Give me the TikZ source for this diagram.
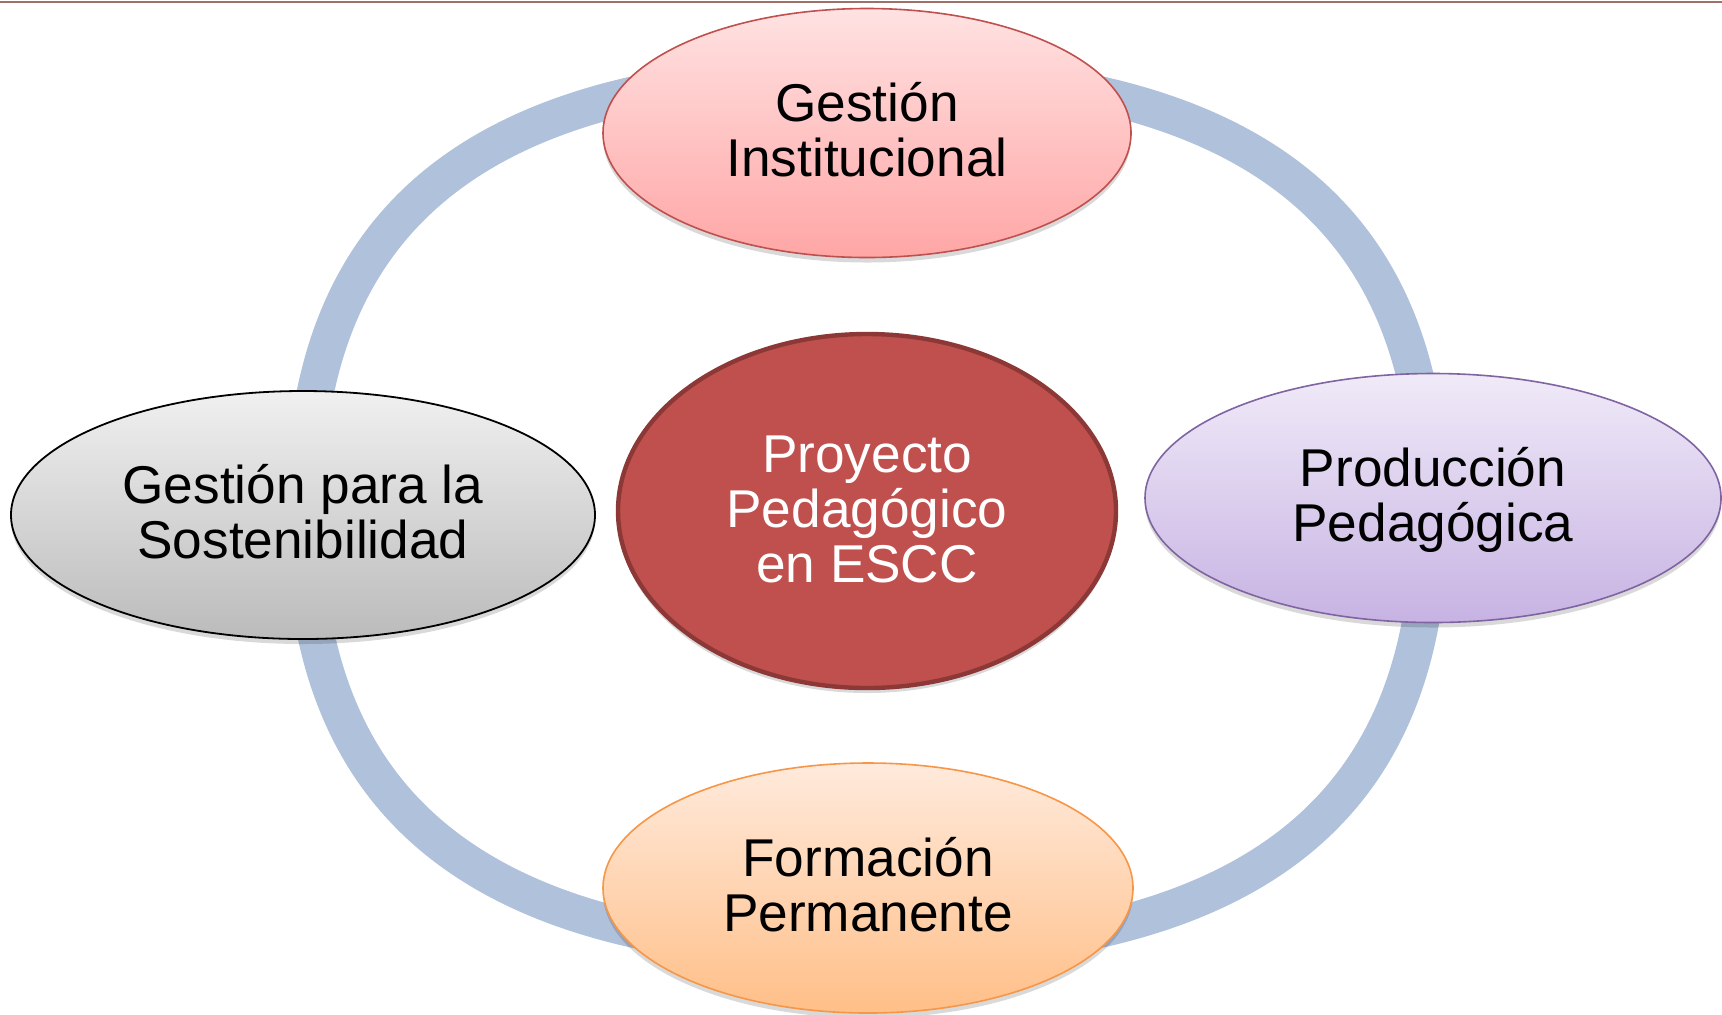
\documentclass[tikz,border=0pt]{standalone}
\usepackage{fontspec}
\setmainfont{Liberation Sans}
\usetikzlibrary{shapes.geometric,shadows}
\definecolor{ringblue}{HTML}{B0C1DB}
\definecolor{toprule}{HTML}{9E7068}
\definecolor{pinkT}{HTML}{FFE2E2}
\definecolor{pinkB}{HTML}{FFA6A6}
\definecolor{pinkL}{HTML}{C0504D}
\definecolor{grayT}{HTML}{F0F0F0}
\definecolor{grayB}{HTML}{BBBBBB}
\definecolor{purpT}{HTML}{F0EAF8}
\definecolor{purpB}{HTML}{C7B3E3}
\definecolor{purpL}{HTML}{8064A2}
\definecolor{oranT}{HTML}{FFEADC}
\definecolor{oranB}{HTML}{FFBF88}
\definecolor{oranL}{HTML}{F79646}
\definecolor{redF}{HTML}{C0504D}
\definecolor{redL}{HTML}{8C3836}
\newcommand\tstrut{\rule{0pt}{1em}}
\newcommand\bstrut{\rule[-0.39em]{0pt}{0.39em}}
\tikzset{
  bub/.style={ellipse, inner sep=0pt, outer sep=0pt, align=center,
    font=\fontsize{26.6}{27.5}\selectfont,
    drop shadow={shadow xshift=0pt, shadow yshift=-2.5pt, opacity=0.15, fill=black}},
  ringstyle/.style={draw=ringblue, line width=18.5pt},
  rulestyle/.style={draw=toprule, line width=1pt},
}
\begin{document}
\begin{tikzpicture}[x=0.5pt, y=-0.5pt]
\useasboundingbox (0,0) rectangle (1722,1014);
\fill[white] (0,0) rectangle (1722,1014);
\draw[rulestyle] (0,2) -- (1722,2);
% ring
\coordinate (rL) at (304,512);
\coordinate (rT) at (867,72);
\coordinate (rR) at (1430,512);
\coordinate (rB) at (867,952);
\draw[ringstyle] (rL) .. controls (304,212.8) and (484.2,72) .. (rT)
  .. controls (1249.8,72) and (1430,212.8) .. (rR)
  .. controls (1430,811.2) and (1249.8,952) .. (rB)
  .. controls (484.2,952) and (304,811.2) .. (rL) -- cycle;
% nodes
\node[bub, minimum width=264pt, minimum height=124.5pt, draw=pinkL, line width=0.8pt,
  top color=pinkT, bottom color=pinkB] (gi) at (867,133) {\tstrut Gestión\\Institucional\bstrut};
\node[bub, minimum width=292pt, minimum height=124pt, draw=black, line width=0.9pt,
  top color=grayT, bottom color=grayB] (gs) at (303,515) {\tstrut Gestión para la\\Sostenibilidad\bstrut};
\node[bub, minimum width=288pt, minimum height=124.5pt, draw=purpL, line width=0.8pt,
  top color=purpT, bottom color=purpB] (pp) at (1433,498) {\tstrut Producción\\Pedagógica\bstrut};
\node[bub, minimum width=265pt, minimum height=125pt, draw=oranL, line width=0.8pt,
  top color=oranT, bottom color=oranB] (fp) at (868,888) {\tstrut Formación\\Permanente\bstrut};
\node[bub, minimum width=249pt, minimum height=177pt, draw=redL, line width=2.2pt,
  fill=redF, text=white] (pe) at (867,511) {\tstrut Proyecto\\Pedagógico\\en ESCC\bstrut};
\end{tikzpicture}
\end{document}
